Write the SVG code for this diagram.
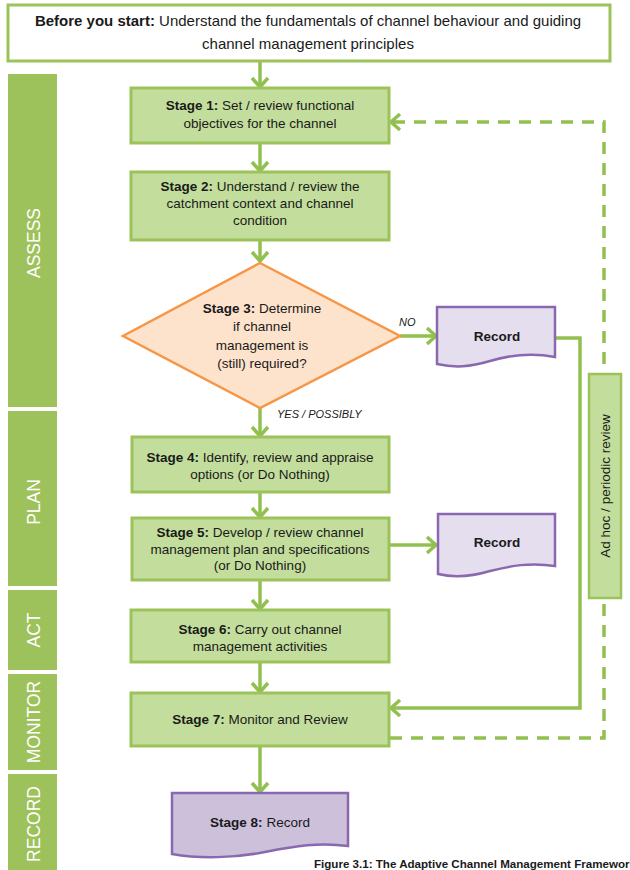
<svg xmlns="http://www.w3.org/2000/svg" width="630" height="870" viewBox="0 0 630 870">
<defs>
<style>
.t{font-family:"Liberation Sans",Arial,sans-serif;font-size:13.5px;fill:#1a1a1a;text-anchor:middle}
.tt{font-size:15px}
.b{font-weight:bold}
.box{fill:#C3DE9C;stroke:#9BC35A;stroke-width:3}
.rec{fill:#E5DEEF;stroke:#8A68B0;stroke-width:2.5}
.bar{fill:#9DC25C}
.lbl{font-family:"Liberation Sans",Arial,sans-serif;font-size:17.5px;fill:#ffffff;text-anchor:middle}
.c{fill:none;stroke:#92C050;stroke-width:3.5}
.d{fill:none;stroke:#92C050;stroke-width:3.5;stroke-dasharray:12 9}
.it{font-family:"Liberation Sans",Arial,sans-serif;font-size:11px;font-style:italic;fill:#1a1a1a}
</style>
<marker id="ah" markerUnits="userSpaceOnUse" viewBox="-2 -2 14 20" markerWidth="14" markerHeight="20" refX="10" refY="8" orient="auto">
<path d="M1,0 L10,8 L1,16" fill="none" stroke="#92C050" stroke-width="3.5" stroke-linejoin="miter"/>
</marker>
</defs>
<rect width="630" height="870" fill="#ffffff"/>

<g id="phases">
<rect class="bar" x="8" y="74" width="49" height="333"/>
<text class="lbl" transform="translate(40,243) rotate(-90)">ASSESS</text>
<rect class="bar" x="8" y="411" width="49" height="175"/>
<text class="lbl" transform="translate(40,502) rotate(-90)">PLAN</text>
<rect class="bar" x="8" y="590" width="49" height="80"/>
<text class="lbl" transform="translate(40,630) rotate(-90)">ACT</text>
<rect class="bar" x="8" y="674" width="49" height="96"/>
<text class="lbl" transform="translate(40,722) rotate(-90)">MONITOR</text>
<rect class="bar" x="8" y="774" width="49" height="96"/>
<text class="lbl" transform="translate(40,824) rotate(-90)">RECORD</text>
</g>

<g id="connectors">
<line class="c" x1="260" y1="62" x2="260" y2="87" marker-end="url(#ah)"/>
<line class="c" x1="260" y1="144" x2="260" y2="171" marker-end="url(#ah)"/>
<line class="c" x1="260" y1="241" x2="260" y2="261" marker-end="url(#ah)"/>
<line class="c" x1="260" y1="408" x2="260" y2="436" marker-end="url(#ah)"/>
<line class="c" x1="260" y1="492" x2="260" y2="517" marker-end="url(#ah)"/>
<line class="c" x1="260" y1="581" x2="260" y2="609" marker-end="url(#ah)"/>
<line class="c" x1="260" y1="663" x2="260" y2="692" marker-end="url(#ah)"/>
<line class="c" x1="260" y1="747" x2="260" y2="792" marker-end="url(#ah)"/>
<line class="c" x1="400" y1="336" x2="436" y2="336" marker-end="url(#ah)"/>
<line class="c" x1="390" y1="545" x2="436" y2="545" marker-end="url(#ah)"/>
<polyline class="c" points="555,338 580,338 580,708 391,708" marker-end="url(#ah)"/>
<polyline class="d" points="390,738 604,738 604,122 391,122" marker-end="url(#ah)"/>
<text class="it" x="399" y="326">NO</text>
<text class="it" x="277" y="418">YES / POSSIBLY</text>
</g>

<g id="start">
<rect x="8" y="5" width="602" height="56" fill="#ffffff" stroke="#9BC35A" stroke-width="3"/>
<text class="t tt" x="308" y="26"><tspan class="b">Before you start:</tspan> Understand the fundamentals of channel behaviour and guiding</text>
<text class="t tt" x="308" y="49">channel management principles</text>
</g>

<g id="stage1">
<rect class="box" x="131" y="88" width="258" height="55"/>
<text class="t" x="260" y="110"><tspan class="b">Stage 1:</tspan> Set / review functional</text>
<text class="t" x="260" y="128">objectives for the channel</text>
</g>

<g id="stage2">
<rect class="box" x="131" y="172" width="258" height="68"/>
<text class="t" x="260" y="191"><tspan class="b">Stage 2:</tspan> Understand / review the</text>
<text class="t" x="260" y="208">catchment context and channel</text>
<text class="t" x="260" y="225">condition</text>
</g>

<g id="stage3">
<polygon points="260,263 400,336 260,408 123,336" fill="#FDE3CC" stroke="#F79646" stroke-width="2.5"/>
<text class="t" x="262" y="313"><tspan class="b">Stage 3:</tspan> Determine</text>
<text class="t" x="262" y="331">if channel</text>
<text class="t" x="262" y="350">management is</text>
<text class="t" x="262" y="368">(still) required?</text>
</g>

<g id="record1">
<path class="rec" d="M437,307 H555 V357 C530,352 510,355 490,361 C470,367 455,368 437,364 Z"/>
<text class="t b" x="497" y="341">Record</text>
</g>

<g id="stage4">
<rect class="box" x="132" y="437" width="257" height="55"/>
<text class="t" x="260" y="462"><tspan class="b">Stage 4:</tspan> Identify, review and appraise</text>
<text class="t" x="260" y="479">options (or Do Nothing)</text>
</g>

<g id="stage5">
<rect class="box" x="132" y="518" width="257" height="62"/>
<text class="t" x="260" y="537"><tspan class="b">Stage 5:</tspan> Develop / review channel</text>
<text class="t" x="260" y="554">management plan and specifications</text>
<text class="t" x="260" y="570">(or Do Nothing)</text>
</g>

<g id="record2">
<path class="rec" d="M438,514 H555 V566 C530,562 510,566 490,571 C470,577 455,578 438,574 Z"/>
<text class="t b" x="497" y="547">Record</text>
</g>

<g id="stage6">
<rect class="box" x="131" y="610" width="258" height="52"/>
<text class="t" x="260" y="634"><tspan class="b">Stage 6:</tspan> Carry out channel</text>
<text class="t" x="260" y="651">management activities</text>
</g>

<g id="stage7">
<rect class="box" x="131" y="693" width="258" height="53"/>
<text class="t" x="260" y="724"><tspan class="b">Stage 7:</tspan> Monitor and Review</text>
</g>

<g id="stage8">
<path d="M172,793 H348 V846 C320,842 295,846 265,852 C235,858 200,859 172,854 Z" fill="#CCC0DA" stroke="#8A68B0" stroke-width="2.5"/>
<text class="t" x="260" y="827"><tspan class="b">Stage 8:</tspan> Record</text>
</g>

<g id="adhoc">
<rect x="589" y="374" width="32" height="224" fill="#C3DE9C" stroke="#9BC35A" stroke-width="2.5"/>
<text class="t" transform="translate(610,486) rotate(-90)">Ad hoc / periodic review</text>
</g>

<text x="314" y="868" font-family="Liberation Sans, Arial, sans-serif" font-size="10.5" font-weight="bold" fill="#1a1a1a" textLength="322" lengthAdjust="spacingAndGlyphs">Figure 3.1: The Adaptive Channel Management Framework</text>
</svg>
